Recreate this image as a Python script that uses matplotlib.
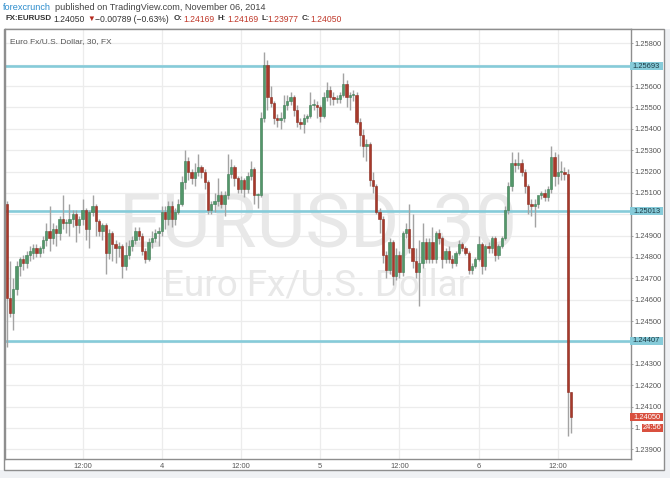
import numpy as np
import matplotlib
matplotlib.use("Agg")
import matplotlib.pyplot as plt
from matplotlib.patches import Rectangle

# EURUSD 30 min candles, Nov 3 - Nov 6 2014
opens = [
	1.2505, 1.2461, 1.2454, 1.2465, 1.2476, 1.2479, 1.2477, 1.2481, 1.2482, 1.2484,
	1.2482, 1.2484, 1.2488, 1.2492, 1.2489, 1.2493, 1.2491, 1.2498, 1.2496, 1.2496,
	1.2498, 1.2500, 1.2495, 1.2498, 1.2502, 1.2493, 1.2501, 1.2504, 1.2497, 1.2492,
	1.2495, 1.2482, 1.2491, 1.2486, 1.2484, 1.2485, 1.2476, 1.2481, 1.2485, 1.2488,
	1.2492, 1.2490, 1.2483, 1.2479, 1.2487, 1.2489, 1.2491, 1.2492, 1.2501, 1.2498,
	1.2504, 1.2498, 1.2501, 1.2505, 1.2515, 1.2525, 1.2520, 1.2517, 1.2520, 1.2522,
	1.2520, 1.2515, 1.2502, 1.2505, 1.2506, 1.2509, 1.2505, 1.2509, 1.2519, 1.2522,
	1.2517, 1.2512, 1.2516, 1.2512, 1.2518, 1.2521, 1.2509, 1.2509, 1.2545, 1.2570,
	1.2555, 1.2552, 1.2545, 1.2544, 1.2545, 1.2551, 1.2553, 1.2555, 1.2549, 1.2543,
	1.2542, 1.2545, 1.2546, 1.2551, 1.2551, 1.2550, 1.2546, 1.2555, 1.2558, 1.2555,
	1.2554, 1.2554, 1.2556, 1.2561, 1.2555, 1.2556, 1.2556, 1.2543, 1.2537, 1.2532,
	1.2533, 1.2516, 1.2513, 1.2501, 1.2498, 1.2481, 1.2474, 1.2487, 1.2471, 1.2481,
	1.2473, 1.2491, 1.2493, 1.2484, 1.2478, 1.2473, 1.2477, 1.2487, 1.2479, 1.2487,
	1.2479, 1.2491, 1.2489, 1.2479, 1.2483, 1.2479, 1.2477, 1.2482, 1.2486, 1.2484,
	1.2482, 1.2474, 1.2476, 1.2479, 1.2486, 1.2476, 1.2485, 1.2484, 1.2489, 1.2481,
	1.2485, 1.2489, 1.2502, 1.2513, 1.2524, 1.2523, 1.2524, 1.2520, 1.2513, 1.2505,
	1.2504, 1.2505, 1.2509, 1.2510, 1.2508, 1.2512, 1.2527, 1.2518, 1.2520, 1.2520,
	1.2519, 1.24169,
]
highs = [
	1.2506, 1.2478, 1.2470, 1.2478, 1.2480, 1.2481, 1.2483, 1.2485, 1.2486, 1.2486,
	1.2485, 1.2490, 1.2496, 1.2504, 1.2496, 1.2495, 1.2499, 1.2509, 1.2498, 1.2505,
	1.2502, 1.2502, 1.2499, 1.2507, 1.2503, 1.2502, 1.2509, 1.2505, 1.2498, 1.2496,
	1.2496, 1.2493, 1.2492, 1.2488, 1.2487, 1.2486, 1.2487, 1.2488, 1.2490, 1.2494,
	1.2494, 1.2491, 1.2484, 1.2489, 1.2492, 1.2493, 1.2494, 1.2504, 1.2504, 1.2506,
	1.2506, 1.2503, 1.2507, 1.2518, 1.2530, 1.2527, 1.2521, 1.2524, 1.2528, 1.2523,
	1.2521, 1.2516, 1.2506, 1.2510, 1.2517, 1.2511, 1.2511, 1.2528, 1.2526, 1.2523,
	1.2518, 1.2518, 1.2517, 1.2520, 1.2525, 1.2522, 1.2510, 1.2548, 1.2576, 1.2572,
	1.2560, 1.2553, 1.2547, 1.2548, 1.2556, 1.2556, 1.2557, 1.2556, 1.2551, 1.2545,
	1.2547, 1.2547, 1.2557, 1.2554, 1.2553, 1.2551, 1.2557, 1.2562, 1.2560, 1.2557,
	1.2556, 1.2557, 1.2566, 1.2563, 1.2557, 1.2558, 1.2557, 1.2545, 1.2540, 1.2535,
	1.2534, 1.2520, 1.2514, 1.2503, 1.2499, 1.2483, 1.2489, 1.2488, 1.2484, 1.2483,
	1.2492, 1.2496, 1.2505, 1.2500, 1.2484, 1.2488, 1.2496, 1.2489, 1.2489, 1.2494,
	1.2492, 1.2493, 1.2490, 1.2484, 1.2485, 1.2481, 1.2483, 1.2488, 1.2487, 1.2485,
	1.2483, 1.2477, 1.2480, 1.2490, 1.2487, 1.2486, 1.2487, 1.2490, 1.2490, 1.2486,
	1.2490, 1.2504, 1.2515, 1.2529, 1.2526, 1.2529, 1.2526, 1.2521, 1.2514, 1.2507,
	1.2507, 1.2507, 1.2511, 1.2512, 1.2513, 1.2532, 1.2529, 1.2528, 1.2525, 1.2522,
	1.2521, 1.24169,
]
lows = [
	1.2438, 1.2452, 1.2446, 1.2462, 1.2471, 1.2474, 1.2475, 1.2478, 1.2479, 1.2480,
	1.2480, 1.2482, 1.2485, 1.2483, 1.2486, 1.2485, 1.2488, 1.2493, 1.2491, 1.2490,
	1.2494, 1.2487, 1.2491, 1.2495, 1.2488, 1.2484, 1.2499, 1.2490, 1.2490, 1.2488,
	1.2472, 1.2479, 1.2478, 1.2477, 1.2480, 1.2470, 1.2474, 1.2479, 1.2483, 1.2486,
	1.2488, 1.2481, 1.2477, 1.2478, 1.2484, 1.2487, 1.2485, 1.2490, 1.2493, 1.2495,
	1.2494, 1.2495, 1.2500, 1.2504, 1.2512, 1.2516, 1.2514, 1.2513, 1.2518, 1.2517,
	1.2512, 1.2500, 1.2500, 1.2501, 1.2504, 1.2503, 1.2499, 1.2507, 1.2517, 1.2513,
	1.2510, 1.2510, 1.2508, 1.2510, 1.2516, 1.2505, 1.2503, 1.2508, 1.2543, 1.2549,
	1.2550, 1.2542, 1.2541, 1.2540, 1.2543, 1.2549, 1.2551, 1.2546, 1.2541, 1.2540,
	1.2538, 1.2543, 1.2545, 1.2549, 1.2545, 1.2543, 1.2545, 1.2553, 1.2551, 1.2551,
	1.2552, 1.2552, 1.2555, 1.2550, 1.2549, 1.2553, 1.2542, 1.2532, 1.2527, 1.2525,
	1.2513, 1.2510, 1.2500, 1.2491, 1.2477, 1.2470, 1.2472, 1.2467, 1.2469, 1.2470,
	1.2471, 1.2489, 1.2482, 1.2475, 1.2470, 1.2457, 1.2475, 1.2477, 1.2477, 1.2477,
	1.2477, 1.2486, 1.2475, 1.2477, 1.2477, 1.2475, 1.2476, 1.2481, 1.2483, 1.2481,
	1.2472, 1.2472, 1.2475, 1.2478, 1.2472, 1.2474, 1.2482, 1.2482, 1.2478, 1.2479,
	1.2484, 1.2488, 1.2500, 1.2511, 1.2520, 1.2521, 1.2518, 1.2510, 1.2500, 1.2499,
	1.2494, 1.2503, 1.2507, 1.2506, 1.2506, 1.2510, 1.2513, 1.2514, 1.2516, 1.2516,
	1.2396, 1.23977,
]
closes = [
	1.2461, 1.2454, 1.2465, 1.2476, 1.2479, 1.2477, 1.2481, 1.2483, 1.2484, 1.2482,
	1.2484, 1.2488, 1.2492, 1.2489, 1.2493, 1.2491, 1.2498, 1.2496, 1.2496, 1.2498,
	1.2500, 1.2495, 1.2498, 1.2502, 1.2493, 1.2501, 1.2504, 1.2497, 1.2492, 1.2495,
	1.2482, 1.2491, 1.2486, 1.2484, 1.2485, 1.2476, 1.2481, 1.2485, 1.2488, 1.2492,
	1.2490, 1.2483, 1.2479, 1.2487, 1.2489, 1.2491, 1.2492, 1.2501, 1.2498, 1.2504,
	1.2498, 1.2501, 1.2505, 1.2515, 1.2525, 1.2520, 1.2517, 1.2520, 1.2522, 1.2520,
	1.2515, 1.2502, 1.2505, 1.2506, 1.2509, 1.2505, 1.2509, 1.2519, 1.2522, 1.2517,
	1.2512, 1.2516, 1.2512, 1.2518, 1.2521, 1.2509, 1.2509, 1.2545, 1.2570, 1.2555,
	1.2552, 1.2545, 1.2544, 1.2545, 1.2551, 1.2553, 1.2555, 1.2549, 1.2543, 1.2542,
	1.2545, 1.2546, 1.2551, 1.2551, 1.2550, 1.2546, 1.2555, 1.2558, 1.2555, 1.2554,
	1.2554, 1.2556, 1.2561, 1.2555, 1.2556, 1.2556, 1.2543, 1.2537, 1.2532, 1.2533,
	1.2516, 1.2513, 1.2501, 1.2498, 1.2481, 1.2474, 1.2487, 1.2471, 1.2481, 1.2473,
	1.2491, 1.2493, 1.2484, 1.2478, 1.2473, 1.2477, 1.2487, 1.2479, 1.2487, 1.2479,
	1.2491, 1.2489, 1.2479, 1.2483, 1.2479, 1.2477, 1.2482, 1.2486, 1.2484, 1.2482,
	1.2474, 1.2476, 1.2479, 1.2486, 1.2476, 1.2485, 1.2484, 1.2489, 1.2481, 1.2485,
	1.2489, 1.2502, 1.2513, 1.2524, 1.2523, 1.2524, 1.2520, 1.2513, 1.2505, 1.2504,
	1.2505, 1.2509, 1.2510, 1.2508, 1.2512, 1.2527, 1.2518, 1.2520, 1.2520, 1.2519,
	1.2417, 1.24050,
]

# bar index of each time label
time_ticks = [23, 47, 71, 95, 119, 143, 167]
time_labels = ["12:00", "4", "12:00", "5", "12:00", "6", "12:00"]

price_ticks = [1.239, 1.240, 1.241, 1.242, 1.243, 1.244, 1.245, 1.246, 1.247, 1.248, 1.249,
	1.250, 1.251, 1.252, 1.253, 1.254, 1.255, 1.256, 1.257, 1.258]
# tick labels covered by the price tags on the scale
hidden_ticks = [1.244, 1.250, 1.257]
levels = [1.25693, 1.25013, 1.24407]
last_price = 1.24050
countdown = "24:56"

W, H = 670, 478
# plot area in pixels
AX_L, AX_R, AX_T, AX_B = 4.5, 630.7, 29, 458.5
GREEN = "#53976a"
RED = "#a8392b"
WICK = "#a3a3a3"
LEVEL = "#86cbd9"
TAGRED = "#d9503f"
GRID = "#ececec"
FRAME = "#8e8e8e"
PAGE = "#eff1f4"
TXT = "#555555"
FONT = "Liberation Sans"
PX = 0.0000468  # price per pixel

o = np.array(opens)
h = np.array(highs)
l = np.array(lows)
c = np.array(closes)
x = np.arange(len(c))


def fx(px):
	return px / W


def fy(py):
	return 1 - py / H


def ax_x(px):
	return (px - AX_L) / (AX_R - AX_L)


def tick_text(p):
	if any(abs(p - q) < 1e-9 for q in hidden_ticks):
		return ""
	if abs(p - 1.240) < 1e-9:
		return "1."  # rest is under the countdown tag
	return "%.5f" % p


def tag(ax, x0, x1, y, text, fc, tc):
	tr = ax.get_yaxis_transform()
	a, b = ax_x(x0), ax_x(x1)
	ax.add_patch(Rectangle((a, y - 4 * PX), b - a, 8 * PX, transform=tr, fc=fc, ec="none",
		clip_on=False, zorder=6))
	ax.text((a + b) / 2, y, text, transform=tr, ha="center", va="center", fontsize=5.4,
		family=FONT, color=tc, clip_on=False, zorder=7)


fig = plt.figure(figsize=(W / 100, H / 100), dpi=100)
fig.patch.set_facecolor("white")

# page background around the widget, and its frame
fig.patches.append(Rectangle((0, 0), 1, fy(470), transform=fig.transFigure,
	facecolor=PAGE, edgecolor="none", zorder=-2))
fig.patches.append(Rectangle((fx(664), 0), 1 - fx(664), fy(29), transform=fig.transFigure,
	facecolor=PAGE, edgecolor="none", zorder=-2))
fig.patches.append(Rectangle((fx(4), fy(470)), fx(660), 441 / H, transform=fig.transFigure,
	facecolor="white", edgecolor=FRAME, lw=1.0, zorder=-1))

ax = fig.add_axes([fx(AX_L), fy(AX_B), fx(AX_R - AX_L), (AX_B - AX_T) / H])
ax.set_facecolor("white")
ax.set_xlim(-0.67, -0.67 + (AX_R - AX_L) / 3.3)
ax.set_ylim(1.258 - (AX_B - 43.3) * PX, 1.258 + (43.3 - AX_T) * PX)

for s in ax.spines.values():
	s.set_color(FRAME)
	s.set_linewidth(1.0)

ax.set_xticks(time_ticks)
ax.set_xticklabels(time_labels)
ax.set_yticks(price_ticks)
ax.set_yticklabels([tick_text(p) for p in price_ticks])
ax.yaxis.tick_right()
ax.tick_params(axis="y", length=1.6, width=0.6, color="#999999", pad=1.2, labelsize=5.4,
	labelcolor=TXT)
ax.tick_params(axis="x", length=0, pad=3, labelsize=5.4, labelcolor=TXT)
for t in ax.get_xticklabels() + ax.get_yticklabels():
	t.set_family(FONT)
ax.grid(True, color=GRID, lw=0.9, zorder=0)
ax.set_axisbelow(True)

# watermark, behind the candles
ax.text(fx(318), fy(247), "EURUSD, 30", transform=fig.transFigure, family="Roboto",
	fontsize=54, color="#e8e8e8", ha="center", va="baseline", zorder=1)
ax.text(fx(317), fy(295), "Euro Fx/U.S. Dollar", transform=fig.transFigure, family="Roboto",
	fontsize=26.5, color="#e8e8e8", ha="center", va="baseline", zorder=1)

# level lines
for lv in levels:
	ax.axhline(lv, color=LEVEL, lw=1.9, zorder=2)

# candles
up = c >= o
ax.vlines(x, l, h, color=WICK, lw=1.0, zorder=3)
body_lo = np.minimum(o, c)
body_h = np.maximum(np.abs(c - o), 0.00004)
ax.bar(x[up], body_h[up], bottom=body_lo[up], width=0.72, color=GREEN,
	edgecolor="#3f7d55", lw=0.4, zorder=4)
ax.bar(x[~up], body_h[~up], bottom=body_lo[~up], width=0.72, color=RED,
	edgecolor="#8c2c20", lw=0.4, zorder=4)

# tags on the price scale (pixel columns)
for lv in levels:
	tag(ax, 630, 663, lv, "%.5f" % lv, LEVEL, "#1c3a44")
tag(ax, 630, 663, last_price, "%.5f" % last_price, TAGRED, "white")
tag(ax, 641.8, 663, 1.2400, countdown, TAGRED, "white")

# titles
ax.text(fx(10), fy(42), "Euro Fx/U.S. Dollar, 30, FX", transform=fig.transFigure,
	fontsize=6.0, family=FONT, color="#555555", ha="left", va="center", zorder=6)

fig.text(fx(3), fy(7), "forexcrunch", fontsize=6.6, family=FONT,
	color="#2b8ccc", ha="left", va="center")
fig.text(fx(55), fy(7), "published on TradingView.com, November 06, 2014", fontsize=6.6,
	family=FONT, color="#444444", ha="left", va="center")

hdr = [
	(5, "FX:EURUSD", "#333333", "bold", 5.7),
	(53, "1.24050", "#333333", "normal", 6.2),
	(87, "\u25bc", "#b52a1f", "normal", 5.6),
	(95, "\u22120.00789 (\u22120.63%)", "#333333", "normal", 6.2),
	(174, "O:", "#333333", "bold", 5.7),
	(183, "1.24169", "#c0392b", "normal", 6.2),
	(218, "H:", "#333333", "bold", 5.7),
	(227, "1.24169", "#c0392b", "normal", 6.2),
	(261, "L:", "#333333", "bold", 5.7),
	(267, "1.23977", "#c0392b", "normal", 6.2),
	(302, "C:", "#333333", "bold", 5.7),
	(310, "1.24050", "#c0392b", "normal", 6.2),
]
for px, s, col, wt, sz in hdr:
	fig.text(fx(px), fy(19), s, fontsize=sz, family=[FONT, "DejaVu Sans"], color=col,
		weight=wt, ha="left", va="center")

fig.savefig("out.png", dpi=100)
